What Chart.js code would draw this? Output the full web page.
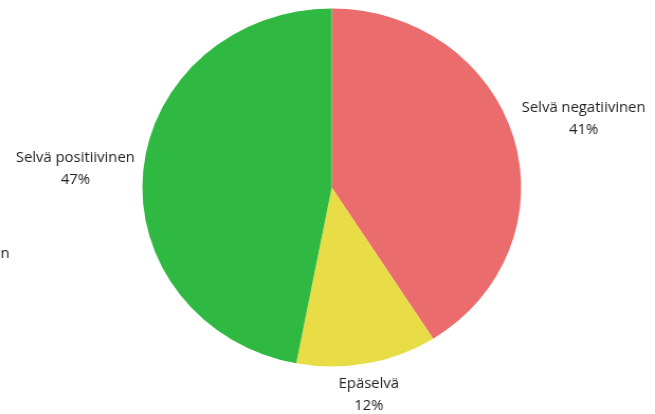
<!DOCTYPE html>
<html>
<head>
<meta charset="utf-8">
<script src="https://cdn.jsdelivr.net/npm/chart.js@4"></script>
<style>
  html, body { margin: 0; padding: 0; background: #fff; overflow: hidden; }
</style>
</head>
<body>
<!-- the reference pie is slightly wider than tall, so the canvas is stretched -->
<canvas id="chart" width="619" height="414" style="width:655px;height:414px;display:block"></canvas>
<script>
// Pie data
const categories = ['Selvä negatiivinen', 'Epäselvä', 'Selvä positiivinen'];
const shares = [41, 12, 47];
const colors = ['#EA6C6C', '#E8DD46', '#2FB943'];
// label of a slice that falls outside the picture on the left
const hiddenLabel = 'Lievästi positiivinen';

const FONT = '14px "Open Sans", sans-serif';
const LINE = 22;

const outsideLabels = {
    id: 'outsideLabels',
    afterDraw(chart) {
        const ctx = chart.ctx;
        const meta = chart.getDatasetMeta(0);
        ctx.save();
        ctx.font = FONT;
        ctx.fillStyle = '#222';
        ctx.textBaseline = 'middle';
        meta.data.forEach((arc, i) => {
            const p = arc.getProps(['x', 'y', 'startAngle', 'endAngle', 'outerRadius'], true);
            const mid = (p.startAngle + p.endAngle) / 2;
            const dx = Math.cos(mid), dy = Math.sin(mid);
            const d = p.outerRadius + 8;
            const ax = p.x + dx * d;
            const ay = p.y + dy * d;
            const lines = [categories[i], shares[i] + '%'];
            const w = Math.max(...lines.map(t => ctx.measureText(t).width));
            const h = LINE * lines.length;
            let cx, top;
            if (Math.abs(dx) > 0.5) {
                cx = dx > 0 ? ax + w / 2 : ax - w / 2;
                top = ay - h / 2 + (dy < -0.2 ? dy * 55 : 0) - 1;
            } else {
                cx = ax;
                top = dy > 0 ? ay + 2 : ay - h;
            }
            ctx.textAlign = 'center';
            lines.forEach((t, j) => ctx.fillText(t, cx, top + LINE * j + LINE / 2));
        });
        ctx.textAlign = 'right';
        ctx.fillText(hiddenLabel, 9, 254);
        ctx.restore();
    }
};

new Chart(document.getElementById('chart'), {
    type: 'pie',
    data: {
        labels: categories,
        datasets: [{
            data: shares,
            backgroundColor: colors,
            borderWidth: 0
        }]
    },
    options: {
        responsive: false,
        animation: false,
        layout: { padding: { top: 8.5, bottom: 47.5, left: 134.5, right: 126.5 } },
        plugins: {
            legend: { display: false },
            tooltip: { enabled: false }
        }
    },
    plugins: [outsideLabels]
});
</script>
</body>
</html>
